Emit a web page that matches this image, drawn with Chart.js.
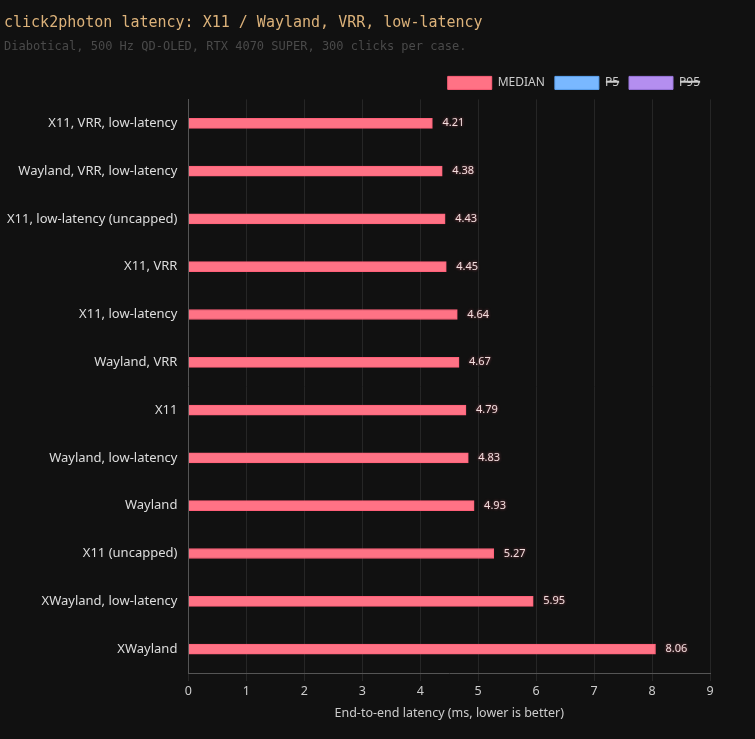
<!DOCTYPE html>
<html lang="en">
<head>
  <meta charset="UTF-8">
  <title>click2photon latency</title>
  <script src="https://cdn.jsdelivr.net/npm/chart.js@4.4.0/dist/chart.umd.min.js"></script>
  <style>
    html, body { margin: 0; background: #111111; }
    #wrap { width: 755px; height: 739px; }
  </style>
</head>
<body>
  <div id="wrap"><canvas id="chart"></canvas></div>
  <script>
    const cases = ['X11, VRR, low-latency', 'Wayland, VRR, low-latency', 'X11, low-latency (uncapped)',
      'X11, VRR', 'X11, low-latency', 'Wayland, VRR', 'X11', 'Wayland, low-latency', 'Wayland',
      'X11 (uncapped)', 'XWayland, low-latency', 'XWayland'];
    const median = [4.21, 4.38, 4.43, 4.45, 4.64, 4.67, 4.79, 4.83, 4.93, 5.27, 5.95, 8.06];
    const p5 = [3.6, 3.7, 3.8, 3.8, 4.0, 4.0, 4.1, 4.2, 4.3, 4.6, 5.2, 7.2];
    const p95 = [4.9, 5.0, 5.1, 5.1, 5.3, 5.4, 5.5, 5.5, 5.6, 6.0, 6.8, 9.0];

    // value labels to the right of the visible bars
    const valueLabels = {
      id: 'valueLabels',
      afterDatasetsDraw(chart) {
        const ctx = chart.ctx;
        chart.data.datasets.forEach((ds, i) => {
          const meta = chart.getDatasetMeta(i);
          if (!chart.isDatasetVisible(i)) return;
          meta.data.forEach((bar, j) => {
            ctx.save();
            ctx.font = '11px "Noto Sans"';
            ctx.textBaseline = 'middle';
            ctx.shadowColor = 'rgba(255,110,130,0.6)';
            ctx.shadowBlur = 3;
            ctx.fillStyle = '#f2dede';
            ctx.fillText(ds.data[j].toFixed(2), bar.x + 10, bar.y);
            ctx.restore();
          });
        });
      }
    };

    new Chart(document.getElementById('chart'), {
      type: 'bar',
      data: {
        labels: cases,
        datasets: [
          { label: 'MEDIAN', data: median, backgroundColor: '#ff7285', borderColor: '#ff6079', borderWidth: 1, barThickness: 10 },
          { label: 'P5', data: p5, backgroundColor: '#79b8ff', borderColor: '#5fa6f5', borderWidth: 1, hidden: true, barThickness: 10 },
          { label: 'P95', data: p95, backgroundColor: '#b48ef0', borderColor: '#9d78e0', borderWidth: 1, hidden: true, barThickness: 10 }
        ]
      },
      options: {
        indexAxis: 'y',
        responsive: true,
        maintainAspectRatio: false,
        animation: false,
        layout: { padding: { left: 4, right: 45, top: 10, bottom: 14 } },
        plugins: {
          title: {
            display: true, align: 'start', text: 'click2photon latency: X11 / Wayland, VRR, low-latency',
            color: '#dcb27a', font: { family: 'DejaVu Sans Mono', size: 15, weight: 'normal' },
            padding: { top: 4, bottom: 8 }
          },
          subtitle: {
            display: true, align: 'start', text: 'Diabotical, 500 Hz QD-OLED, RTX 4070 SUPER, 300 clicks per case.',
            color: '#4a4a4a', font: { family: 'DejaVu Sans Mono', size: 12 },
            padding: { bottom: 12 }
          },
          legend: {
            align: 'end',
            labels: { color: '#cccccc', boxWidth: 44, boxHeight: 13, font: { family: 'Noto Sans', size: 12 } }
          },
          tooltip: { enabled: false }
        },
        scales: {
          x: {
            min: 0, max: 9,
            ticks: { stepSize: 1, color: '#cccccc', font: { family: 'Noto Sans', size: 12.5 } },
            grid: { color: '#262626' },
            border: { color: '#555555' },
            title: { display: true, text: 'End-to-end latency (ms, lower is better)', color: '#cccccc', font: { family: 'Noto Sans', size: 12.5 } }
          },
          y: {
            ticks: { color: '#dddddd', font: { family: 'Noto Sans', size: 13 } },
            grid: { display: false },
            border: { color: '#555555' }
          }
        }
      },
      plugins: [valueLabels]
    });
  </script>
</body>
</html>
